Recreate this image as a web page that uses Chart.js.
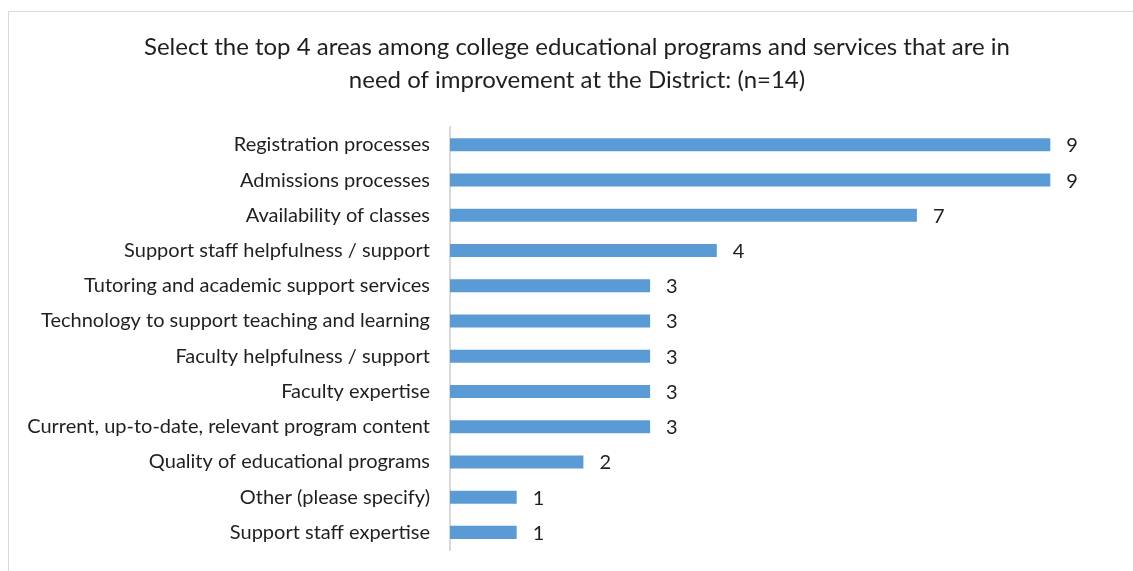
<!DOCTYPE html>
<html>
<head>
<meta charset="utf-8">
<script src="https://cdn.jsdelivr.net/npm/chart.js@4"></script>
<style>
    body { margin: 0; background: #fff; overflow: hidden; }
    #frame {
        position: absolute; left: 8px; top: 11px; width: 1140px; height: 580px;
        border: 1px solid #d9d9d9; box-sizing: border-box;
    }
    #chartBox { position: absolute; left: 0; top: 0; width: 1133px; height: 571px; }
</style>
</head>
<body>
<div id="frame"></div>
<div id="chartBox"><canvas id="areasChart" width="1133" height="571"></canvas></div>
<script>
var categories = [
    "Registration processes",
    "Admissions processes",
    "Availability of classes",
    "Support staff helpfulness / support",
    "Tutoring and academic support services",
    "Technology to support teaching and learning",
    "Faculty helpfulness / support",
    "Faculty expertise",
    "Current, up-to-date, relevant program content",
    "Quality of educational programs",
    "Other (please specify)",
    "Support staff expertise"
];
var counts = [9, 9, 7, 4, 3, 3, 3, 3, 3, 2, 1, 1];
var titleLines = [
    "Select the top 4 areas among college educational programs and services that are in",
    "need of improvement at the District: (n=14)"
];

var textColor = "#1f1f1f";
var fontFamily = "Lato, sans-serif";

// value labels at the end of each bar
var barLabels = {
    id: "barLabels",
    afterLayout: function (chart) {
        // title is centred over the whole frame, not just the padded area
        if (chart.titleBlock) chart.titleBlock.left += 27;
    },
    afterDatasetsDraw: function (chart) {
        var ctx = chart.ctx;
        var meta = chart.getDatasetMeta(0);
        ctx.save();
        ctx.fillStyle = textColor;
        ctx.font = "20px " + fontFamily;
        ctx.textAlign = "left";
        ctx.textBaseline = "middle";
        meta.data.forEach(function (bar, i) {
            ctx.fillText(String(counts[i]), bar.x + 16, bar.y + 1);
        });
        ctx.restore();
    }
};

var areasChart = new Chart(document.getElementById("areasChart"), {
    type: "bar",
    data: {
        labels: categories,
        datasets: [{
            data: counts,
            backgroundColor: "#5b9bd5",
            borderWidth: 0,
            barPercentage: 0.37,
            categoryPercentage: 1
        }]
    },
    options: {
        indexAxis: "y",
        responsive: false,
        animation: false,
        layout: { padding: { left: 10, right: 16, top: 0, bottom: 21 } },
        plugins: {
            legend: { display: false },
            tooltip: { enabled: false },
            title: {
                display: true,
                text: titleLines,
                color: textColor,
                font: { family: fontFamily, size: 24, weight: "normal", lineHeight: 1.38 },
                padding: { top: 31, bottom: 30 }
            }
        },
        scales: {
            x: {
                display: false,
                min: 0,
                max: 10
            },
            y: {
                grid: { display: false, drawTicks: false },
                border: { display: true, color: "#d9d9d9", width: 2 },
                ticks: {
                    color: textColor,
                    font: { family: fontFamily, size: 20 },
                    padding: 20,
                    autoSkip: false
                },
                afterFit: function (scale) {
                    scale.width = 440;
                    scale.paddingTop = 0;
                    scale.paddingBottom = 0;
                }
            }
        }
    },
    plugins: [barLabels]
});
</script>
</body>
</html>
